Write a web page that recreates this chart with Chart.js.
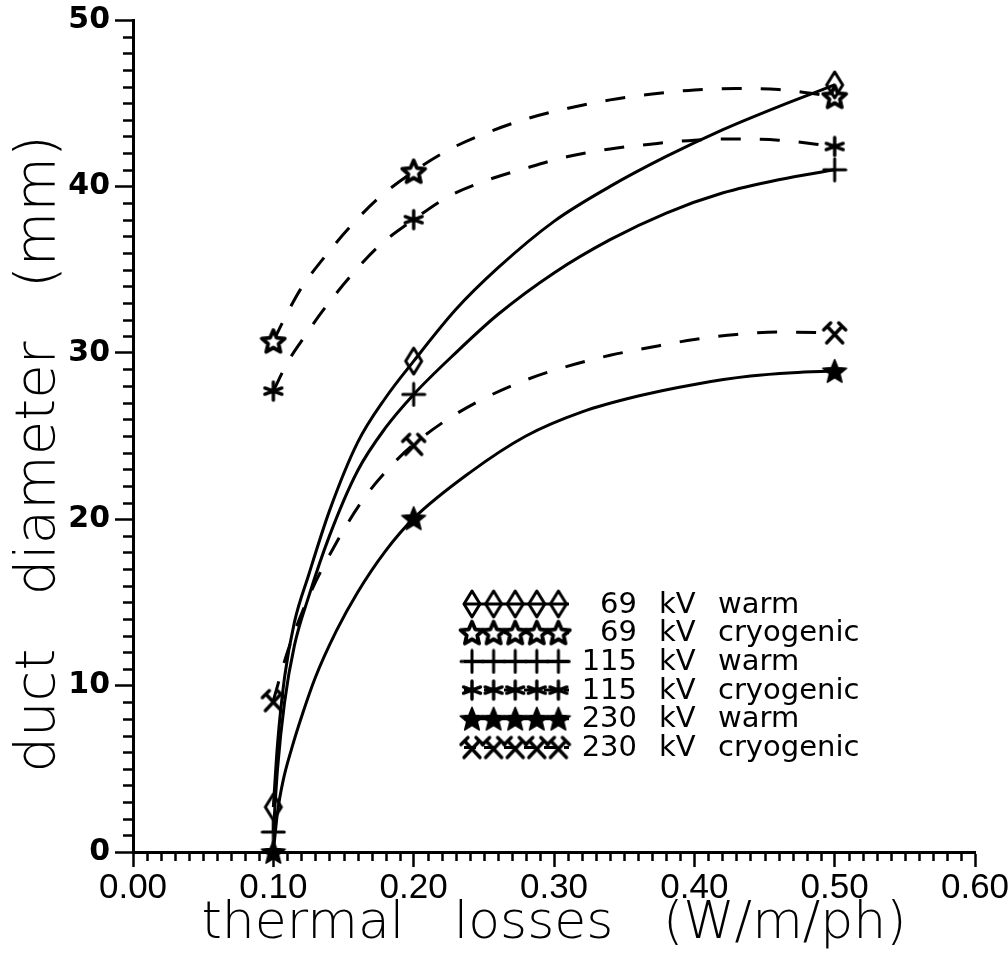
<!DOCTYPE html>
<html>
<head>
<meta charset="utf-8">
<script src="https://cdn.jsdelivr.net/npm/chart.js@4/dist/chart.umd.min.js"></script>
<style>
  html, body { margin: 0; padding: 0; background: #fff; }
  #chart { display: block; }
</style>
</head>
<body>
<canvas id="chart" width="1008" height="961"></canvas>
<script>
// ---- data ----
const markerX = [0.1, 0.2, 0.5];

const kv69WarmMarks  = [2.7, 29.5, 46.1];
const kv69CryoMarks  = [30.7, 40.9, 45.4];
const kv115WarmMarks = [1.2, 27.5, 41.0];
const kv115CryoMarks = [27.7, 38.0, 42.4];
const kv230WarmMarks = [0.0, 20.05, 28.9];
const kv230CryoMarks = [9.1, 24.5, 31.2];

// fitted curves
const kv69WarmCurveX  = [0.1, 0.103, 0.108, 0.115, 0.125, 0.14, 0.16, 0.18, 0.2, 0.23, 0.26, 0.3, 0.34, 0.38, 0.42, 0.46, 0.5];
const kv69WarmCurveY  = [2.7, 6.5, 10.5, 13.8, 16.6, 20.5, 24.6, 27.3, 29.5, 32.6, 35.1, 37.9, 40.0, 41.8, 43.4, 44.8, 46.1];
const kv115WarmCurveX = [0.1, 0.103, 0.108, 0.115, 0.125, 0.14, 0.16, 0.18, 0.2, 0.23, 0.26, 0.3, 0.34, 0.38, 0.42, 0.46, 0.5];
const kv115WarmCurveY = [1.2, 5.0, 9.0, 12.4, 15.3, 19.0, 22.9, 25.5, 27.5, 30.0, 32.3, 34.8, 36.8, 38.4, 39.6, 40.4, 41.0];
const kv230WarmCurveX = [0.1, 0.103, 0.107, 0.113, 0.12, 0.13, 0.145, 0.16, 0.18, 0.2, 0.24, 0.28, 0.32, 0.36, 0.4, 0.44, 0.47, 0.5];
const kv230WarmCurveY = [0.0, 2.4, 4.3, 6.2, 8.1, 10.5, 13.3, 15.6, 18.1, 20.05, 22.8, 25.0, 26.45, 27.4, 28.1, 28.6, 28.8, 28.9];
const kv69CryoCurveX  = [0.1, 0.11, 0.12, 0.135, 0.155, 0.175, 0.2, 0.225, 0.25, 0.28, 0.31, 0.34, 0.37, 0.4, 0.43, 0.46, 0.5];
const kv69CryoCurveY  = [30.7, 32.4, 33.9, 35.6, 37.6, 39.3, 40.9, 42.2, 43.15, 44.05, 44.7, 45.2, 45.55, 45.8, 45.88, 45.82, 45.4];
const kv115CryoCurveX = [0.1, 0.11, 0.12, 0.135, 0.155, 0.175, 0.2, 0.225, 0.25, 0.28, 0.31, 0.34, 0.37, 0.4, 0.43, 0.46, 0.5];
const kv115CryoCurveY = [27.7, 29.4, 30.7, 32.5, 34.6, 36.4, 38.0, 39.4, 40.3, 41.1, 41.8, 42.25, 42.55, 42.78, 42.85, 42.78, 42.4];
const kv230CryoCurveX = [0.1, 0.11, 0.125, 0.145, 0.165, 0.185, 0.2, 0.225, 0.25, 0.28, 0.31, 0.34, 0.37, 0.4, 0.43, 0.46, 0.5];
const kv230CryoCurveY = [9.1, 12.0, 15.3, 18.6, 21.3, 23.3, 24.5, 26.05, 27.25, 28.37, 29.2, 29.85, 30.35, 30.8, 31.1, 31.25, 31.2];

const voltages = ["69", "69", "115", "115", "230", "230"];
const kinds = ["warm", "cryogenic", "warm", "cryogenic", "warm", "cryogenic"];

const xTicks = [0, 0.1, 0.2, 0.3, 0.4, 0.5, 0.6];
const yTicks = [0, 10, 20, 30, 40, 50];

// ---- marker glyphs ----
function glyph(w, h, draw) {
  const c = document.createElement("canvas");
  c.width = w; c.height = h;
  const g = c.getContext("2d");
  g.strokeStyle = "#000"; g.fillStyle = "#000";
  g.lineCap = "round"; g.lineJoin = "round";
  draw(g, w, h);
  return c;
}
function starPath(g, cx, cy, ro, ri) {
  g.beginPath();
  for (let i = 0; i < 10; i++) {
    const r = i % 2 ? ri : ro;
    const a = -Math.PI / 2 + i * Math.PI / 5;
    g.lineTo(cx + r * Math.cos(a), cy + r * Math.sin(a));
  }
  g.closePath();
}
const diamond = glyph(22, 30, (g) => {
  g.lineWidth = 3;
  g.beginPath();
  g.moveTo(11, 2); g.lineTo(19, 15); g.lineTo(11, 28); g.lineTo(3, 15);
  g.closePath(); g.stroke();
});
const openStar = glyph(28, 28, (g) => {
  starPath(g, 14, 15, 12, 5.5);
  g.fillStyle = "#fff"; g.fill();
  g.lineWidth = 3.8; g.stroke();
});
const plus = glyph(26, 26, (g) => {
  g.lineWidth = 3;
  g.beginPath();
  g.moveTo(2, 13); g.lineTo(24, 13);
  g.moveTo(13, 2); g.lineTo(13, 24);
  g.stroke();
});
const asterisk = glyph(24, 24, (g) => {
  g.lineWidth = 3.4;
  g.beginPath();
  for (const a of [90, 20, 160]) {
    const r = 9, t = a * Math.PI / 180;
    g.moveTo(12 - r * Math.cos(t), 12 - r * Math.sin(t));
    g.lineTo(12 + r * Math.cos(t), 12 + r * Math.sin(t));
  }
  g.stroke();
});
const filledStar = glyph(28, 28, (g) => {
  starPath(g, 14, 15, 12.5, 5.5);
  g.fill();
  g.lineWidth = 1.5; g.stroke();
});
const hammers = glyph(28, 28, (g) => {
  g.lineWidth = 3.4;
  g.beginPath();
  g.moveTo(7, 8); g.lineTo(22, 24);
  g.moveTo(21, 8); g.lineTo(6, 24);
  g.moveTo(3, 11); g.lineTo(10, 4);
  g.moveTo(18, 4); g.lineTo(25, 11);
  g.stroke();
});

const series = [
  { cx: kv69WarmCurveX,  cy: kv69WarmCurveY,  marks: kv69WarmMarks,  glyph: diamond,    dashed: false },
  { cx: kv69CryoCurveX,  cy: kv69CryoCurveY,  marks: kv69CryoMarks,  glyph: openStar,   dashed: true },
  { cx: kv115WarmCurveX, cy: kv115WarmCurveY, marks: kv115WarmMarks, glyph: plus,       dashed: false },
  { cx: kv115CryoCurveX, cy: kv115CryoCurveY, marks: kv115CryoMarks, glyph: asterisk,   dashed: true },
  { cx: kv230WarmCurveX, cy: kv230WarmCurveY, marks: kv230WarmMarks, glyph: filledStar, dashed: false },
  { cx: kv230CryoCurveX, cy: kv230CryoCurveY, marks: kv230CryoMarks, glyph: hammers,    dashed: true }
];
const DASH = [20, 19];

const datasets = [];
series.forEach((s, i) => {
  datasets.push({
    type: "line",
    label: voltages[i] + " kV " + kinds[i],
    data: s.cx.map((x, k) => ({ x, y: s.cy[k] })),
    borderColor: "#000",
    borderWidth: 3,
    borderDash: s.dashed ? DASH : [],
    pointRadius: 0,
    cubicInterpolationMode: "monotone",
    fill: false,
    order: 2
  });
});
series.forEach((s, i) => {
  datasets.push({
    type: "scatter",
    label: voltages[i] + " kV " + kinds[i] + " points",
    data: markerX.map((x, k) => ({ x, y: s.marks[k] })),
    pointStyle: s.glyph,
    showLine: false,
    clip: false,
    order: 1
  });
});

// ---- minor ticks + legend ----
const minorTicks = {
  id: "minorTicks",
  afterDraw(chart) {
    const { ctx, scales: { x, y }, chartArea } = chart;
    ctx.save();
    ctx.strokeStyle = "#000";
    ctx.lineWidth = 2.5;
    ctx.beginPath();
    for (let i = 1; i < 60; i++) {
      if (i % 10 === 0) continue;
      const px = Math.round(x.getPixelForValue(i / 100)) + 0.5;
      ctx.moveTo(px, chartArea.bottom);
      ctx.lineTo(px, chartArea.bottom + 9);
    }
    for (let j = 1; j < 50; j++) {
      if (j % 10 === 0) continue;
      const py = Math.round(y.getPixelForValue(j)) + 0.5;
      ctx.moveTo(chartArea.left, py);
      ctx.lineTo(chartArea.left - 10, py);
    }
    ctx.stroke();
    ctx.restore();
  }
};

const insideLegend = {
  id: "insideLegend",
  afterDraw(chart) {
    const ctx = chart.ctx;
    const rowY0 = 604, rowGap = 28.7;
    const lx0 = 464, lx1 = 569;
    ctx.save();
    series.forEach((s, i) => {
      const yy = rowY0 + i * rowGap;
      ctx.strokeStyle = "#000";
      ctx.lineWidth = 3;
      ctx.setLineDash(s.dashed ? [12, 8] : []);
      ctx.beginPath();
      ctx.moveTo(lx0, yy); ctx.lineTo(lx1, yy);
      ctx.stroke();
      ctx.setLineDash([]);
      for (let k = 0; k < 5; k++) {
        const mx = 472 + k * 21.6;
        const g = s.glyph;
        ctx.drawImage(g, mx - g.width / 2, yy - g.height / 2);
      }
      ctx.fillStyle = "#000";
      ctx.font = "29px 'DejaVu Sans'";
      ctx.textBaseline = "middle";
      ctx.textAlign = "right";
      ctx.fillText(voltages[i], 637, yy + 1);
      ctx.textAlign = "left";
      ctx.fillText("kV", 659, yy + 1);
      ctx.fillText(kinds[i], 718, yy + 1);
    });
    ctx.restore();
  }
};

new Chart(document.getElementById("chart"), {
  type: "scatter",
  data: { datasets },
  options: {
    responsive: false,
    animation: false,
    events: [],
    layout: { padding: { top: 20, right: 33, left: 0, bottom: 0 } },
    plugins: { legend: { display: false }, tooltip: { enabled: false } },
    scales: {
      x: {
        type: "linear",
        min: 0, max: 0.6,
        afterBuildTicks: (s) => { s.ticks = xTicks.map(v => ({ value: v })); },
        afterFit: (s) => { s.height = 109; s.paddingLeft = 0; s.paddingRight = 0; },
        ticks: {
          color: "#000",
          font: { family: "'Liberation Sans'", size: 35 },
          padding: 0,
          maxRotation: 0,
          callback: (v) => Number(v).toFixed(2)
        },
        grid: { drawOnChartArea: false, drawTicks: true, tickLength: 15, tickColor: "#000", tickWidth: 2.5 },
        border: { display: true, color: "#000", width: 3 },
        title: {
          display: true,
          text: "thermal   losses   (W/m/ph)",
          color: "#000",
          font: { family: "'DejaVu Sans'", size: 52, weight: "200" },
          padding: { top: 0, bottom: 5 }
        }
      },
      y: {
        type: "linear",
        min: 0, max: 50,
        afterBuildTicks: (s) => { s.ticks = yTicks.map(v => ({ value: v })); },
        afterFit: (s) => { s.width = 133; s.paddingTop = 0; s.paddingBottom = 0; },
        ticks: {
          color: "#000",
          font: { family: "'DejaVu Sans'", size: 30, weight: "bold" },
          padding: 5
        },
        grid: { drawOnChartArea: false, drawTicks: true, tickLength: 18, tickColor: "#000", tickWidth: 2.5 },
        border: { display: true, color: "#000", width: 3 },
        title: {
          display: true,
          text: "duct   diameter   (mm)  ",
          color: "#000",
          font: { family: "'DejaVu Sans'", size: 56, weight: "200" },
          padding: { top: 6, bottom: 0 }
        }
      }
    }
  },
  plugins: [minorTicks, insideLegend]
});
</script>
</body>
</html>
